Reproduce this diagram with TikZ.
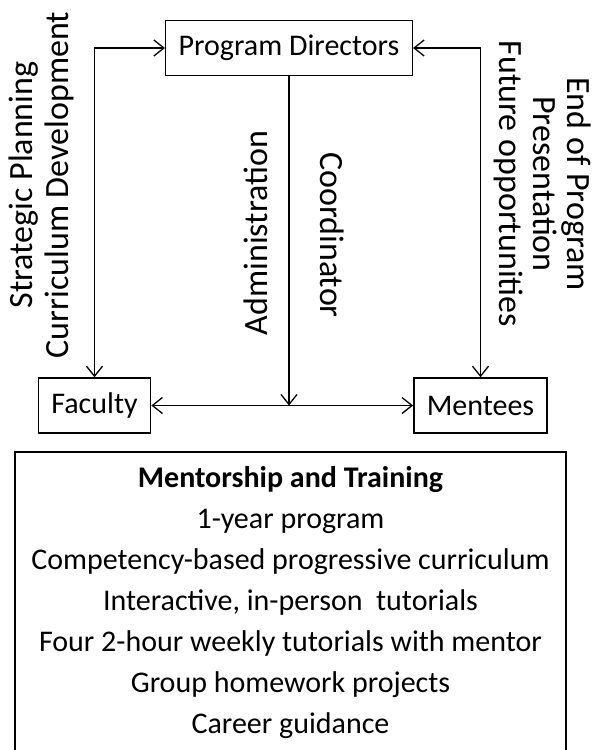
\documentclass[tikz,border=0pt]{standalone}
\usepackage{fontspec}
\setmainfont{Carlito}
\usepackage{tikz}
\usetikzlibrary{arrows.meta, positioning}
\tikzset{
>={Straight Barb[length=10pt,width=16pt]}, % open arrow heads
role/.style={draw, line width=1.5pt, inner xsep=13pt, minimum height=55pt, font=\fontsize{30}{36}\selectfont}, % the three boxes
link/.style={line width=1.3pt}, % the connectors
side/.style={align=center, font=\fontsize{34}{36}\selectfont}, % rotated labels
}

\begin{document}
\begin{tikzpicture}[x=1pt, y=-1pt]
    \useasboundingbox (0,0) rectangle (593,750);
    % Boxes
    \node[role] (dir) at (289,48) {Program Directors};
    \node[role] (fac) at (94.5,405.5) {Faculty};
    \node[role] (men) at (480.5,405.5) {Mentees};

    % Connectors
    \draw[link, <->] (dir.west) -| (fac.north);
    \draw[link, <->] (dir.east) -| (men.north);
    \draw[link, <->] (fac.east) -- (men.west);
    \draw[link, ->] (dir.south) -- (dir.south |- fac.east);

    % Labels
    \node[side, rotate=90] (plan) at (41,185) {Strategic Planning\\Curriculum Development};
    \node[side, rotate=90] (admin) at (256,233) {Administration};
    \node[side, rotate=-90] (coord) at (332,235) {Coordinator};
    \node[side, rotate=-90, font=\fontsize{34}{34}\selectfont] (end) at (543,184) {End of Program\\Presentation\\Future opportunities};

    % Training box
    \node[draw, line width=1.5pt, minimum width=551pt, minimum height=302pt, align=center,
      font=\fontsize{30}{41}\selectfont] (train) at (290.5,603)
      {\textbf{Mentorship and Training}\\1-year program\\Competency-based progressive curriculum\\Interactive, in-person\ \ tutorials\\Four 2-hour weekly tutorials with mentor\\Group homework projects\\Career guidance};
  \end{tikzpicture}
\end{document}
